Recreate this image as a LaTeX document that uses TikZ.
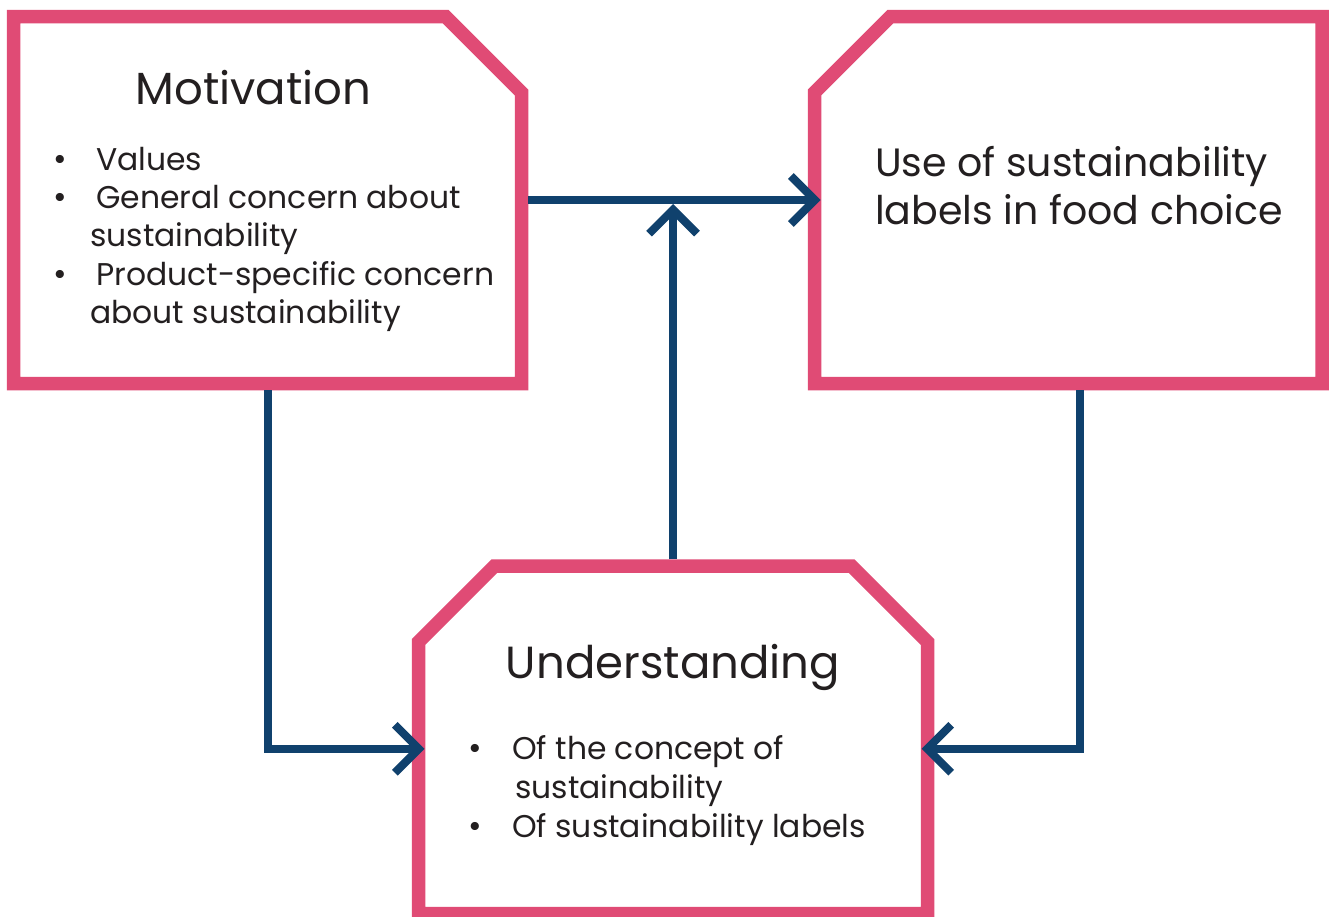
\documentclass[tikz,border=0pt]{standalone}
\usepackage{fontspec}
\setmainfont{Poppins}
\usetikzlibrary{arrows.meta,calc}
\definecolor{pinkc}{RGB}{224,75,117}
\definecolor{bluec}{RGB}{16,65,109}
\definecolor{textc}{RGB}{35,31,32}
\begin{document}
\begin{tikzpicture}[x=1pt,y=-1pt,
  box/.style={draw=pinkc,line width=13.5pt,fill=white,line join=miter},
  frame/.style={inner sep=0pt,outer sep=0pt,draw=none,rectangle},
  conn/.style={draw=bluec,line width=8pt,line join=miter,
    -{Straight Barb[length=24pt,width=48pt]},shorten >=-6pt,shorten <=6.75pt},
  title/.style={font=\fontsize{45}{54}\selectfont,text=textc,inner sep=0pt,anchor=base},
  big/.style={font=\fontsize{39.5}{47}\selectfont,text=textc,inner sep=0pt,anchor=base west},
  item/.style={font=\fontsize{31.4}{38}\selectfont,text=textc,inner sep=0pt,anchor=base west},
  bul/.style={font=\fontsize{33}{38}\selectfont,text=textc,inner sep=0pt,anchor=base}]
\useasboundingbox (0,0) rectangle (1329,916);
\fill[white] (0,0) rectangle (1329,916);
% frames (stroke centre lines)
\node[frame,minimum width=508pt,minimum height=367pt] (M) at (267.5,200) {};
\node[frame,minimum width=507.5pt,minimum height=367pt] (U) at (1068.25,200) {};
\node[frame,minimum width=509pt,minimum height=347.5pt] (D) at (673,739.75) {};
% boxes
\draw[box] (M.north west) -- ($(M.north east)+(-76,0)$) -- ($(M.north east)+(0,76)$)
  -- (M.south east) -- (M.south west) -- cycle;
\draw[box] ($(U.north west)+(76,0)$) -- (U.north east) -- (U.south east)
  -- (U.south west) -- ($(U.north west)+(0,76)$) -- cycle;
\draw[box] ($(D.north west)+(76,0)$) -- ($(D.north east)+(-76,0)$) -- ($(D.north east)+(0,76)$)
  -- (D.south east) -- (D.south west) -- ($(D.north west)+(0,76)$) -- cycle;
% connectors
\draw[conn] (M.east) -- (U.west);
\draw[conn,shorten >=4pt] (D.north) -- (D.north |- M.east);
\draw[conn] (M.south) |- ($(D.west)+(0,9)$);
\draw[conn] ($(U.south)+(11.25,0)$) |- ($(D.east)+(0,9)$);
% texts
\node[title] (mt) at (253.5,104) {Motivation};
\node[bul] (mb1) at (60,170) {•};
\node[item] (m1) at (96,170) {Values};
\node[bul] (mb2) at (60,208) {•};
\node[item] (m2) at (96,208) {General concern about};
\node[item] (m3) at (90,246.5) {sustainability};
\node[bul] (mb3) at (60,285) {•};
\node[item] (m4) at (96,285) {Product-specific concern};
\node[item] (m5) at (90,323) {about sustainability};
\node[big] (u1) at (875,176) {Use of sustainability};
\node[big] (u2) at (875,224) {labels in food choice};
\node[title] (dt) at (673,678) {Understanding};
\node[bul] (db1) at (475,759) {•};
\node[item] (d1) at (512,759) {Of the concept of};
\node[item] (d2) at (515,798) {sustainability};
\node[bul] (db2) at (475,837) {•};
\node[item] (d3) at (512,837) {Of sustainability labels};
\end{tikzpicture}
\end{document}
